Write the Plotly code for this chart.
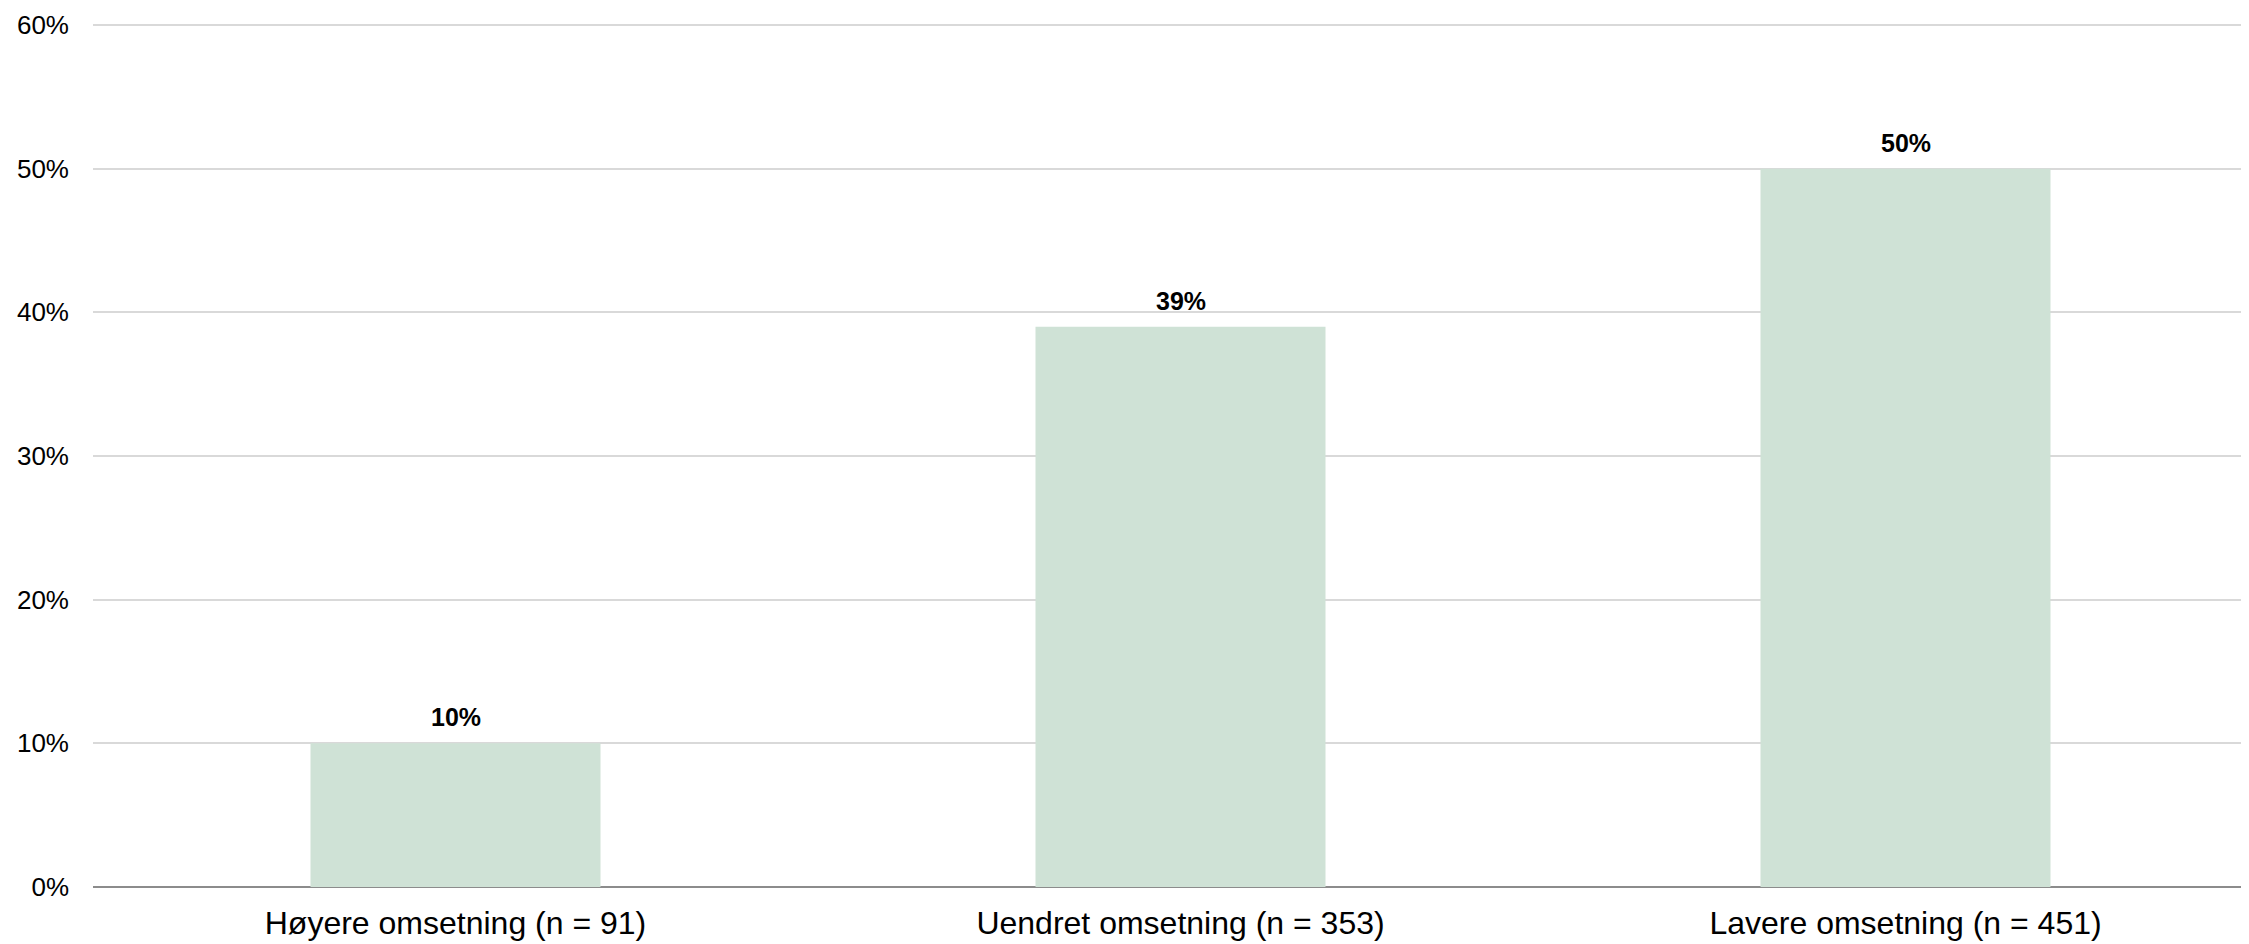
import plotly.graph_objects as go

categories = ["Høyere omsetning (n = 91)", "Uendret omsetning (n = 353)", "Lavere omsetning (n = 451)"]
values = [10, 39, 50]
labels = ["10%", "39%", "50%"]
y_ticks = [0, 10, 20, 30, 40, 50, 60]
y_tick_labels = ["0%", "10%", "20%", "30%", "40%", "50%", "60%"]

fig = go.Figure()
fig.add_trace(go.Bar(
    x=categories,
    y=values,
    marker=dict(color="#cfe2d6", line=dict(width=0)),
    width=0.4,
    hoverinfo="skip",
))

for c, v, t in zip(categories, values, labels):
    fig.add_annotation(
        x=c, y=v, text=t, showarrow=False, yanchor="bottom", yshift=10,
        font=dict(family="Liberation Sans, Arial, sans-serif", size=25, color="#000000", weight="bold"),
    )

fig.update_layout(
    width=2241,
    height=936,
    margin=dict(l=85, r=0, t=13, b=57, autoexpand=False),
    paper_bgcolor="#ffffff",
    plot_bgcolor="#ffffff",
    showlegend=False,
    font=dict(family="Liberation Sans, Arial, sans-serif", color="#000000"),
    xaxis=dict(
        range=[-0.5, 2.4738],
        showgrid=False,
        tickfont=dict(size=32, color="#000000"),
        ticks="",
        ticklabelstandoff=14,
        showline=False,
        automargin=False,
    ),
    yaxis=dict(
        range=[0, 60.278],
        tickvals=y_ticks,
        ticktext=y_tick_labels,
        tickfont=dict(size=26, color="#000000"),
        showgrid=True,
        gridcolor="#d9d9d9",
        gridwidth=1.5,
        zeroline=True,
        zerolinecolor="#8c8c8c",
        zerolinewidth=2,
        ticks="",
        ticklabelstandoff=23,
        showline=False,
        automargin=False,
    ),
)

fig.write_html("out.html")
